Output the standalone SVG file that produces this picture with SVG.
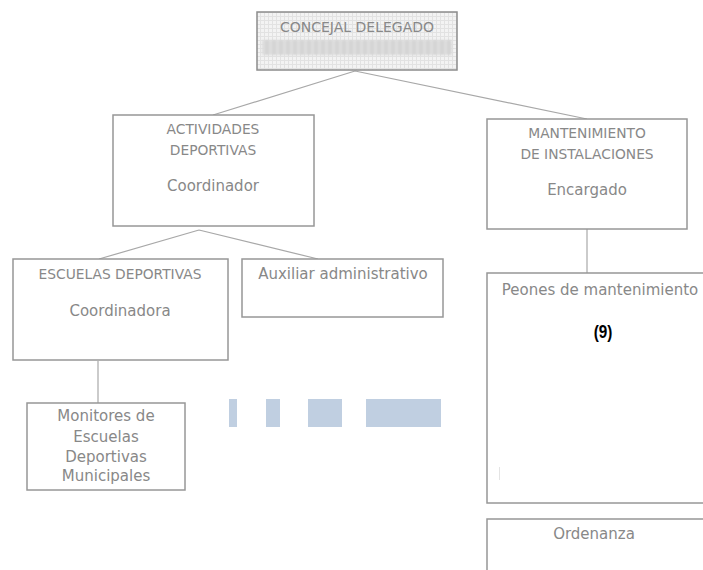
<svg xmlns="http://www.w3.org/2000/svg" width="703" height="570" viewBox="0 0 703 570">
<defs>
<pattern id="grid" width="4" height="4" patternUnits="userSpaceOnUse">
<rect width="4" height="4" fill="#f3f3f3"/>
<path d="M0 0.5H4M0.5 0V4" stroke="#e2e2e2" stroke-width="1"/>
</pattern>
<pattern id="band" width="7" height="16" patternUnits="userSpaceOnUse">
<rect width="7" height="16" fill="#dcdcdc"/>
<rect x="0" width="2" height="16" fill="#cfcfcf"/>
</pattern>
<filter id="blur" x="-5%" y="-30%" width="110%" height="160%"><feGaussianBlur stdDeviation="1.2"/></filter>
<style>
.box{fill:#fff;stroke:#979797;stroke-width:1.5}
.t{font-family:"DejaVu Sans",Verdana,sans-serif;fill:#888;text-anchor:middle}
.cap{font-size:13.8px}
.low{font-size:15px}
.con{stroke:#a8a8a8;stroke-width:1.2;fill:none}
.blue{fill:#c0cfe1}
</style>
</defs>
<g id="connectors">
<path class="con" d="M355 71L213 115M355 71L587 119"/>
<path class="con" d="M199 230L99 259M199 230L318 259"/>
<path class="con" d="M587 229V273"/>
<path class="con" d="M98 361V403"/>
</g>
<g id="concejal">
<rect x="257" y="12" width="200" height="58" fill="url(#grid)" stroke="#8c8c8c" stroke-width="1.5"/>
<rect x="262" y="40" width="190" height="15" fill="url(#band)" filter="url(#blur)"/>
<text class="t" x="357" y="32" font-size="14">CONCEJAL DELEGADO</text>
</g>
<g id="actividades">
<rect class="box" x="113" y="115" width="201" height="111"/>
<text class="t cap" x="213" y="134">ACTIVIDADES</text>
<text class="t cap" x="213" y="155">DEPORTIVAS</text>
<text class="t low" x="213" y="191">Coordinador</text>
</g>
<g id="mantenimiento">
<rect class="box" x="487" y="119" width="200" height="110"/>
<text class="t cap" x="587" y="138">MANTENIMIENTO</text>
<text class="t cap" x="587" y="159">DE INSTALACIONES</text>
<text class="t low" x="587" y="195">Encargado</text>
</g>
<g id="escuelas">
<rect class="box" x="13" y="259" width="215" height="101"/>
<text class="t cap" x="120" y="279">ESCUELAS DEPORTIVAS</text>
<text class="t low" x="120" y="316">Coordinadora</text>
</g>
<g id="auxiliar">
<rect class="box" x="242" y="259" width="201" height="58"/>
<text class="t low" x="343" y="279">Auxiliar administrativo</text>
</g>
<g id="monitores">
<rect class="box" x="27" y="403" width="158" height="87"/>
<text class="t low" x="106" y="421">Monitores de</text>
<text class="t low" x="106" y="442">Escuelas</text>
<text class="t low" x="106" y="462">Deportivas</text>
<text class="t low" x="106" y="481">Municipales</text>
</g>
<g id="peones">
<rect class="box" x="487" y="273" width="230" height="230"/>
<line x1="499.5" y1="467" x2="499.5" y2="480" stroke="#e4e4e4" stroke-width="1"/>
<text class="t low" x="600" y="295">Peones de mantenimiento</text>
<text x="603" y="338" font-family="'Liberation Sans',Arial,sans-serif" font-weight="bold" font-size="18" fill="#000" text-anchor="middle" transform="translate(603 0) scale(0.85 1) translate(-603 0)">(9)</text>
</g>
<g id="ordenanza">
<rect class="box" x="487" y="519" width="230" height="70"/>
<text class="t low" x="594" y="539">Ordenanza</text>
</g>
<g id="blocks">
<rect class="blue" x="229" y="399" width="8" height="28"/>
<rect class="blue" x="266" y="399" width="14" height="28"/>
<rect class="blue" x="308" y="399" width="34" height="28"/>
<rect class="blue" x="366" y="399" width="75" height="28"/>
</g>
</svg>
